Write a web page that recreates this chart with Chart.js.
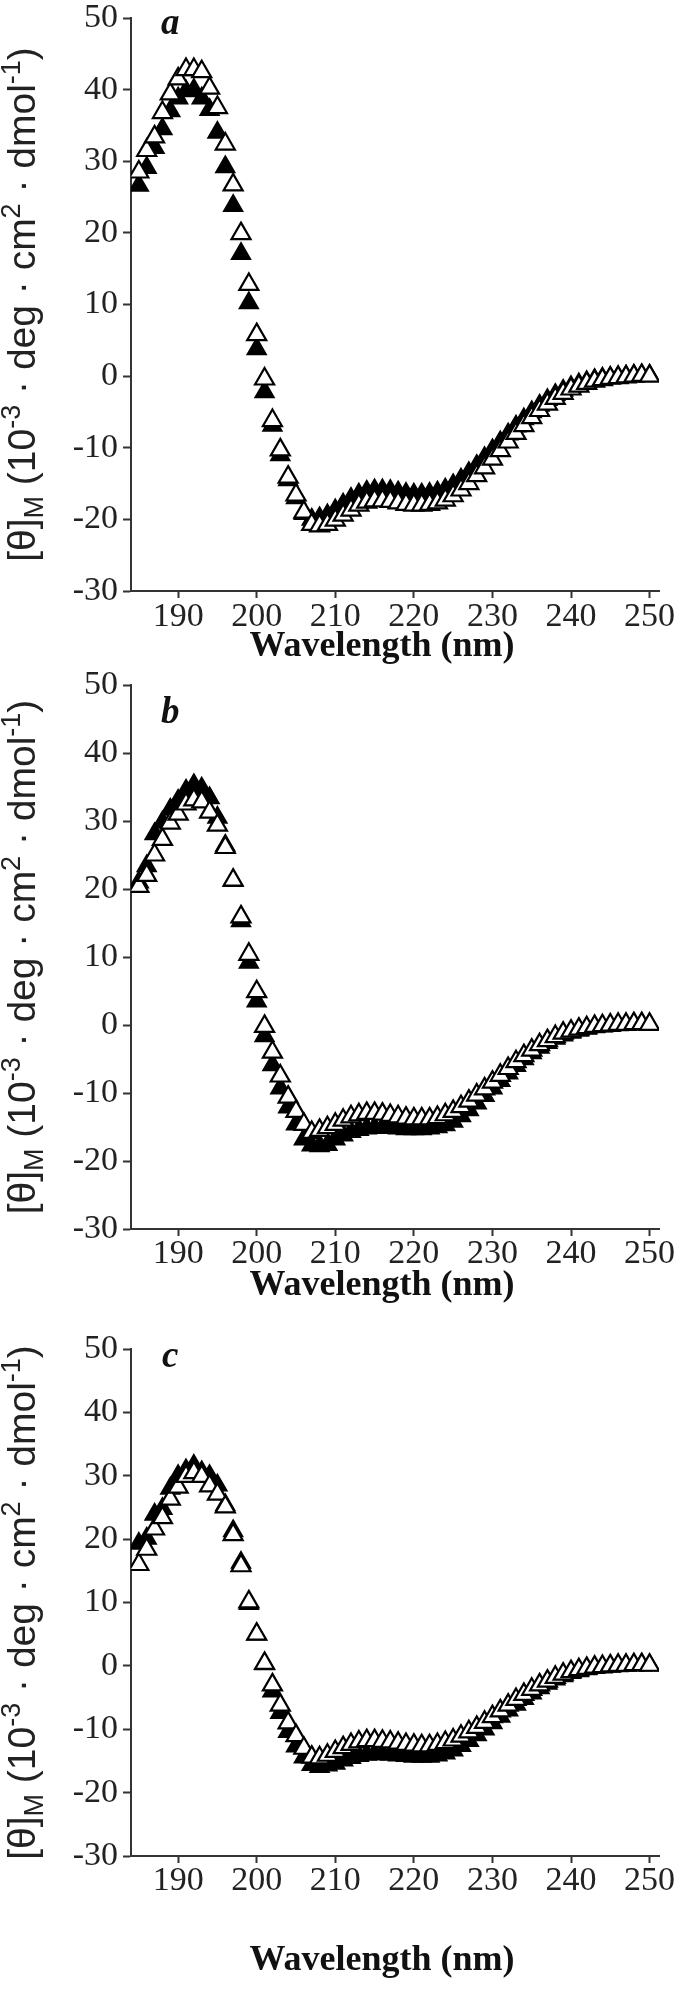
<!DOCTYPE html>
<html><head><meta charset="utf-8">
<script src="https://cdn.jsdelivr.net/npm/chart.js@4.4.0/dist/chart.umd.min.js"></script>
<style>
html,body{margin:0;padding:0;background:#fff;}
body{width:679px;height:1989px;position:relative;overflow:hidden;}
canvas{position:absolute;left:0;}
</style></head><body>
<canvas id="pa"></canvas><canvas id="pb"></canvas><canvas id="pc"></canvas>
<script>
// ---------- data ----------
const wavelengths = [185,186,187,188,189,190,191,192,193,194,195,196,197,198,199,200,201,202,203,204,205,206,207,208,209,210,211,212,213,214,215,216,217,218,219,220,221,222,223,224,225,226,227,228,229,230,231,232,233,234,235,236,237,238,239,240,241,242,243,244,245,246,247,248,249,250];
const xTickValues = [190,200,210,220,230,240,250];
const yTickValues = [-30,-20,-10,0,10,20,30,40,50];
const xAxisTitle = 'Wavelength (nm)';
const panelLetters = ['a','b','c'];

const openA = [28.5,31.5,33.4,36.8,39.4,41.5,42.8,42.8,42.5,40.2,37.5,32.4,26.7,19.9,12.8,5.8,-0.4,-6.2,-10.3,-14.1,-16.6,-19.0,-20.7,-20.9,-20.7,-20.1,-19.4,-18.7,-18.0,-17.6,-17.4,-17.4,-17.5,-17.7,-17.9,-18.0,-18.0,-17.9,-17.7,-17.3,-16.7,-15.9,-15.0,-13.9,-12.8,-11.6,-10.4,-9.2,-8.0,-6.9,-5.8,-4.8,-3.9,-3.1,-2.4,-1.8,-1.4,-1.0,-0.7,-0.5,-0.3,-0.2,-0.1,0.0,0.1,0.0];
const filledA = [26.6,29.1,31.9,34.5,37.0,38.8,39.8,40.0,38.8,37.2,34.0,29.2,23.8,17.1,10.2,3.8,-2.2,-6.9,-11.0,-14.5,-17.0,-19.2,-20.0,-19.8,-19.4,-18.7,-17.9,-17.1,-16.5,-16.1,-15.9,-15.9,-16.0,-16.2,-16.4,-16.5,-16.5,-16.4,-16.2,-15.8,-15.2,-14.4,-13.5,-12.5,-11.4,-10.3,-9.2,-8.1,-7.0,-6.0,-5.0,-4.1,-3.3,-2.6,-2.0,-1.5,-1.1,-0.8,-0.5,-0.3,-0.2,-0.1,0.0,0.1,0.1,0.1];

const openB = [20.4,22.0,25.0,27.3,29.7,31.0,32.5,33.1,32.8,31.3,29.4,26.1,21.3,15.9,10.4,4.9,-0.2,-4.0,-7.5,-10.6,-12.7,-14.6,-15.8,-15.5,-15.1,-14.6,-14.0,-13.5,-13.2,-13.0,-13.0,-13.1,-13.3,-13.5,-13.7,-13.8,-13.8,-13.8,-13.6,-13.2,-12.7,-12.0,-11.2,-10.3,-9.4,-8.4,-7.4,-6.4,-5.4,-4.5,-3.7,-2.9,-2.3,-1.7,-1.2,-0.9,-0.6,-0.4,-0.2,-0.1,0.0,0.1,0.1,0.2,0.2,0.1];
const filledB = [21.0,23.4,28.1,29.8,31.7,33.0,34.5,35.3,34.8,33.4,30.5,26.4,21.2,15.3,9.2,3.5,-1.6,-5.9,-9.3,-12.1,-14.6,-16.8,-17.7,-17.8,-17.6,-16.8,-16.2,-15.7,-15.4,-15.2,-15.1,-15.1,-15.1,-15.2,-15.3,-15.3,-15.3,-15.2,-15.0,-14.7,-14.2,-13.4,-12.5,-11.5,-10.4,-9.3,-8.2,-7.1,-6.0,-5.0,-4.1,-3.3,-2.6,-2.0,-1.5,-1.1,-0.8,-0.5,-0.3,-0.2,-0.1,0.0,0.1,0.1,0.2,0.1];

const openC = [16.0,18.4,21.6,23.4,26.3,28.2,29.9,30.5,29.9,28.4,27.1,25.1,20.7,15.8,10.1,5.0,0.4,-3.0,-6.2,-9.0,-11.0,-13.0,-14.4,-14.5,-14.1,-13.5,-12.9,-12.4,-12.0,-11.8,-11.8,-11.9,-12.0,-12.2,-12.4,-12.5,-12.6,-12.6,-12.4,-12.1,-11.7,-11.1,-10.4,-9.7,-8.9,-8.0,-7.1,-6.2,-5.3,-4.5,-3.7,-3.0,-2.4,-1.8,-1.3,-0.9,-0.6,-0.4,-0.2,-0.1,0.0,0.1,0.1,0.2,0.2,0.1];
const filledC = [19.3,20.1,23.9,24.8,28.0,30.0,30.9,31.6,30.6,30.0,28.5,25.4,21.3,16.3,9.8,5.0,0.3,-4.0,-7.4,-10.4,-12.7,-14.4,-15.6,-15.9,-15.7,-15.4,-14.9,-14.5,-14.2,-14.0,-13.9,-13.9,-14.0,-14.1,-14.2,-14.3,-14.3,-14.3,-14.1,-13.8,-13.3,-12.6,-11.8,-10.9,-10.0,-9.0,-8.0,-7.0,-6.1,-5.2,-4.3,-3.5,-2.8,-2.1,-1.6,-1.1,-0.8,-0.5,-0.3,-0.2,-0.1,0.0,0.1,0.1,0.2,0.1];

// ---------- layout (pixels, not data) ----------
const TICK_FONT = 34, X_TL = 7;
const panels = [
  {id:'pa', top:0,    h:680, areaTop:18, areaBottom:591, labelC:617, titleC:647, letter:panelLetters[0], letterY:47.8, open:openA, filled:filledA},
  {id:'pb', top:655,  h:660, areaTop:30, areaBottom:574, labelC:599, titleC:631, letter:panelLetters[1], letterY:44.4, open:openB, filled:filledB},
  {id:'pc', top:1315, h:674, areaTop:34, areaBottom:541, labelC:566, titleC:646, letter:panelLetters[2], letterY:47.2, open:openC, filled:filledC}
];
const X_MIN = 184.0, X_MAX = 251.2;
const AREA_LEFT = 131, AREA_RIGHT = 659, XTITLE_X = 382;

const serif = '"Liberation Serif","Times New Roman",serif';
const sans = '"Liberation Sans",Arial,sans-serif';

// y-axis title segments: n = normal, sub = subscript, sup = superscript
const yTitleParts = [
  {t:'[\u03B8]', k:'n'}, {t:'M', k:'sub'}, {t:' (10', k:'n'}, {t:'-3', k:'sup'},
  {t:' \u00B7 deg \u00B7 cm', k:'n'}, {t:'2', k:'sup'}, {t:' \u00B7 dmol', k:'n'},
  {t:'-1', k:'sup'}, {t:')', k:'n'}
];

const annotPlugin = {
  id: 'annot',
  afterDraw(chart, args, opts) {
    const ctx = chart.ctx, a = chart.chartArea;
    ctx.save();
    // panel letter
    ctx.font = 'italic bold 37px ' + serif;
    ctx.fillStyle = '#111';
    ctx.textAlign = 'center';
    ctx.textBaseline = 'alphabetic';
    ctx.fillText(opts.letter, chart.scales.x.getPixelForValue(189.0), chart.scales.y.getPixelForValue(opts.letterY));
    // x-axis title
    ctx.font = 'bold 36px ' + serif;
    ctx.textBaseline = 'middle';
    ctx.fillText(xAxisTitle, XTITLE_X, opts.titleC);
    ctx.restore();

    // rotated y title with sub/superscripts
    const big = 39, small = 27;
    ctx.save();
    ctx.fillStyle = '#222';
    ctx.textBaseline = 'alphabetic';
    ctx.textAlign = 'left';
    let total = 0;
    const widths = yTitleParts.map(p => {
      ctx.font = (p.k === 'n' ? big : small) + 'px ' + sans;
      const w = ctx.measureText(p.t).width;
      total += w; return w;
    });
    ctx.translate(opts.titleX, (a.top + a.bottom) / 2);
    ctx.rotate(-Math.PI / 2);
    let x = -total / 2;
    const base = 13;
    yTitleParts.forEach((p, i) => {
      ctx.font = (p.k === 'n' ? big : small) + 'px ' + sans;
      const dy = p.k === 'sub' ? 8 : (p.k === 'sup' ? -15 : 0);
      ctx.fillText(p.t, x, base + dy);
      x += widths[i];
    });
    ctx.restore();
  }
};

panels.forEach(p => {
  const el = document.getElementById(p.id);
  el.width = 679; el.height = p.h;
  el.style.top = p.top + 'px';
  el.style.width = '679px'; el.style.height = p.h + 'px';
  const pts = vals => wavelengths.map((w, i) => ({x: w, y: vals[i]}));
  const labelPad = (p.labelC - p.areaBottom) - X_TL - TICK_FONT / 2;
  new Chart(el, {
    type: 'scatter',
    data: {
      datasets: [
        {label: 'open', data: pts(p.open), pointStyle: 'triangle', pointRadius: 11,
         pointBackgroundColor: '#ffffff', pointBorderColor: '#000000', pointBorderWidth: 2.2, showLine: false},
        {label: 'filled', data: pts(p.filled), pointStyle: 'triangle', pointRadius: 11,
         pointBackgroundColor: '#000000', pointBorderColor: '#000000', pointBorderWidth: 1.5, showLine: false}
      ]
    },
    options: {
      responsive: false, animation: false, devicePixelRatio: 1,
      layout: {padding: {left: 0, right: 679 - AREA_RIGHT, top: p.areaTop, bottom: 0}},
      plugins: {
        legend: {display: false}, tooltip: {enabled: false},
        annot: {letter: p.letter, letterY: p.letterY, titleX: 22, titleC: p.titleC}
      },
      scales: {
        x: {
          type: 'linear', min: X_MIN, max: X_MAX,
          afterBuildTicks: s => { s.ticks = xTickValues.map(v => ({value: v})); },
          afterFit: s => { s.height = p.h - p.areaBottom; s.paddingLeft = 0; s.paddingRight = 0; },
          ticks: {font: {family: serif, size: TICK_FONT, lineHeight: 1}, color: '#222', padding: labelPad, maxRotation: 0, autoSkip: false},
          grid: {drawOnChartArea: false, drawTicks: true, tickLength: X_TL, tickColor: '#333', tickWidth: 2},
          border: {display: true, color: '#333', width: 2},
          title: {display: false}
        },
        y: {
          type: 'linear', min: yTickValues[0], max: yTickValues[yTickValues.length - 1],
          afterBuildTicks: s => { s.ticks = yTickValues.map(v => ({value: v})); },
          afterFit: s => { s.width = AREA_LEFT; s.paddingTop = 0; s.paddingBottom = 0; },
          ticks: {font: {family: serif, size: TICK_FONT, lineHeight: 1}, color: '#222', padding: 5, autoSkip: false},
          grid: {drawOnChartArea: false, drawTicks: true, tickLength: 8, tickColor: '#333', tickWidth: 2},
          border: {display: true, color: '#333', width: 2}
        }
      }
    },
    plugins: [annotPlugin]
  });
});
</script>
</body></html>
